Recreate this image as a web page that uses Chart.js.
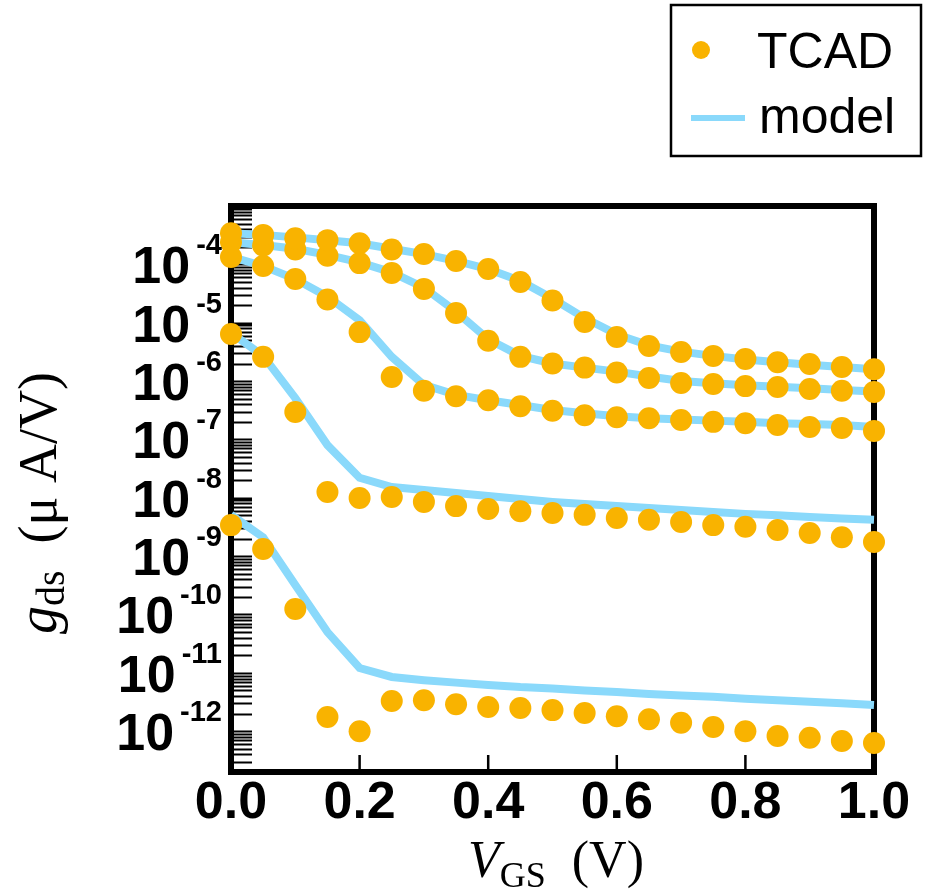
<!DOCTYPE html>
<html>
<head>
<meta charset="utf-8">
<title>gds vs VGS</title>
<script src="https://cdn.jsdelivr.net/npm/chart.js@4.4.0/dist/chart.umd.min.js"></script>
<style>
  html, body { margin: 0; padding: 0; background: #fff; }
  #wrap { position: relative; width: 927px; height: 889px; }
</style>
</head>
<body>
<div id="wrap"><canvas id="chart"></canvas></div>
<script>
'use strict';

// gate voltage sweep (V)
var vgs = [0.00, 0.05, 0.10, 0.15, 0.20, 0.25, 0.30, 0.35, 0.40, 0.45, 0.50,
           0.55, 0.60, 0.65, 0.70, 0.75, 0.80, 0.85, 0.90, 0.95, 1.00];

// TCAD points, gds in uA/V, one array per curve (top to bottom)
var tcad1 = [3.4e-4, 3.2e-4, 2.8e-4, 2.6e-4, 2.3e-4, 1.8e-4, 1.5e-4, 1.14e-4, 8.3e-5, 5.0e-5, 2.4e-5,
             1.03e-5, 5.7e-6, 4.0e-6, 3.15e-6, 2.7e-6, 2.4e-6, 2.1e-6, 1.96e-6, 1.74e-6, 1.6e-6];
var tcad2 = [2.4e-4, 2.1e-4, 1.8e-4, 1.4e-4, 1.05e-4, 7.1e-5, 3.8e-5, 1.47e-5, 4.9e-6, 2.6e-6, 2.0e-6,
             1.7e-6, 1.4e-6, 1.13e-6, 9.3e-7, 8.9e-7, 8.2e-7, 7.9e-7, 7.3e-7, 6.8e-7, 6.5e-7];
var tcad3 = [1.34e-4, 9.4e-5, 5.6e-5, 2.5e-5, 6.9e-6, 1.17e-6, 6.8e-7, 5.5e-7, 4.7e-7, 3.7e-7, 3.1e-7,
             2.6e-7, 2.4e-7, 2.3e-7, 2.15e-7, 2.0e-7, 1.9e-7, 1.77e-7, 1.63e-7, 1.57e-7, 1.4e-7];
var tcad4 = [6.4e-6, 2.6e-6, 2.95e-7, 1.26e-8, 9.9e-9, 1.03e-8, 8.5e-9, 7.2e-9, 6.4e-9, 5.9e-9, 5.5e-9,
             5.1e-9, 4.5e-9, 4.2e-9, 3.85e-9, 3.4e-9, 3.2e-9, 2.8e-9, 2.5e-9, 2.1e-9, 1.75e-9];
var tcad5 = [3.4e-9, 1.33e-9, 1.24e-10, 1.75e-12, 1.0e-12, 3.3e-12, 3.4e-12, 2.9e-12, 2.6e-12, 2.5e-12, 2.3e-12,
             2.05e-12, 1.8e-12, 1.6e-12, 1.4e-12, 1.18e-12, 1.0e-12, 8.3e-13, 7.7e-13, 6.8e-13, 6.3e-13];

// model curves
var model1 = [3.4e-4, 3.2e-4, 2.9e-4, 2.6e-4, 2.3e-4, 1.85e-4, 1.5e-4, 1.15e-4, 8.3e-5, 5.2e-5, 2.6e-5,
              1.2e-5, 6.3e-6, 4.1e-6, 3.2e-6, 2.7e-6, 2.35e-6, 2.1e-6, 1.9e-6, 1.75e-6, 1.6e-6];
var model2 = [2.4e-4, 2.15e-4, 1.85e-4, 1.45e-4, 1.08e-4, 7.3e-5, 4.0e-5, 1.55e-5, 5.2e-6, 2.7e-6, 2.0e-6,
              1.7e-6, 1.45e-6, 1.2e-6, 1.0e-6, 9.2e-7, 8.5e-7, 8.0e-7, 7.5e-7, 7.0e-7, 6.6e-7];
var model3 = [1.34e-4, 9.4e-5, 5.6e-5, 2.8e-5, 1.1e-5, 2.6e-6, 8.6e-7, 5.8e-7, 4.7e-7, 3.9e-7, 3.2e-7,
              2.8e-7, 2.5e-7, 2.3e-7, 2.2e-7, 2.1e-7, 2.0e-7, 1.9e-7, 1.84e-7, 1.77e-7, 1.63e-7];
var model4 = [6.7e-6, 2.7e-6, 5.1e-7, 8.0e-8, 2.2e-8, 1.53e-8, 1.36e-8, 1.21e-8, 1.07e-8, 9.5e-9, 8.5e-9,
              7.8e-9, 7.2e-9, 6.7e-9, 6.2e-9, 5.7e-9, 5.3e-9, 5.0e-9, 4.7e-9, 4.4e-9, 4.2e-9];
var model5 = [5.1e-9, 2.1e-9, 3.2e-10, 5.0e-11, 1.21e-11, 8.5e-12, 7.5e-12, 6.8e-12, 6.2e-12, 5.7e-12, 5.4e-12,
              5.0e-12, 4.7e-12, 4.35e-12, 4.1e-12, 3.9e-12, 3.6e-12, 3.4e-12, 3.2e-12, 3.0e-12, 2.8e-12];

var xTicks = [0.0, 0.2, 0.4, 0.6, 0.8, 1.0];
var yExponents = [-4, -5, -6, -7, -8, -9, -10, -11, -12];
var legendLabels = ['TCAD', 'model'];

var orange = '#f9b300';
var blue = '#8ad9fb';
var sans = "'Liberation Sans', Arial, sans-serif";
var serif = "'Liberation Serif', 'Times New Roman', serif";

function points(vals) {
  var out = [];
  for (var i = 0; i < vals.length; i++) {
    out.push({ x: vgs[i], y: vals[i] });
  }
  return out;
}

var datasets = [];
[tcad1, tcad2, tcad3, tcad4, tcad5].forEach(function (d) {
  datasets.push({
    label: legendLabels[0],
    data: points(d),
    showLine: false,
    pointRadius: 11,
    pointHoverRadius: 11,
    pointBackgroundColor: orange,
    pointBorderWidth: 0,
    clip: false,
    order: 0
  });
});
[model1, model2, model3, model4, model5].forEach(function (d) {
  datasets.push({
    label: legendLabels[1],
    data: points(d),
    showLine: true,
    tension: 0,
    borderColor: blue,
    borderWidth: 8,
    pointRadius: 0,
    clip: false,
    order: 1
  });
});

// draw text pieces one after another (for sub scripts / italics)
function drawPieces(c, pieces, cx, baseY) {
  var total = 0;
  pieces.forEach(function (p) { c.font = p.font; total += c.measureText(p.t).width; });
  var x = cx - total / 2;
  c.textAlign = 'left';
  c.textBaseline = 'alphabetic';
  pieces.forEach(function (p) {
    c.font = p.font;
    c.fillText(p.t, x, baseY + (p.dy || 0));
    x += c.measureText(p.t).width;
  });
}

var decor = {
  id: 'decor',
  beforeDatasetsDraw: function (chart) {
    var c = chart.ctx, a = chart.chartArea;
    var xs = chart.scales.x, ys = chart.scales.y;
    c.save();
    c.strokeStyle = '#000';
    // inner log ticks on the left axis
    c.lineWidth = 1.8;
    c.beginPath();
    for (var e = -13; e <= -3; e++) {
      for (var m = 1; m <= 9; m++) {
        var v = m * Math.pow(10, e);
        if (v < ys.min || v > ys.max) continue;
        var py = Math.round(ys.getPixelForValue(v)) + 0.5;
        c.moveTo(a.left, py);
        c.lineTo(a.left + 21, py);
      }
    }
    c.stroke();
    // inner ticks on the bottom axis
    c.lineWidth = 2.5;
    c.beginPath();
    xTicks.forEach(function (t) {
      var px = xs.getPixelForValue(t);
      c.moveTo(px, a.bottom);
      c.lineTo(px, a.bottom - 17);
    });
    c.stroke();
    // frame
    c.lineWidth = 6;
    c.strokeRect(a.left, a.top, a.right - a.left, a.bottom - a.top);
    c.restore();
  },
  afterDraw: function (chart) {
    var c = chart.ctx, ys = chart.scales.y;
    c.save();
    c.fillStyle = '#000';

    // y tick labels 10^n
    yExponents.forEach(function (p) {
      var py = ys.getPixelForValue(Math.pow(10, p));
      c.textBaseline = 'alphabetic';
      c.textAlign = 'right';
      c.font = 'bold 29px ' + sans;
      var sup = String(p);
      c.fillText(sup, 222, py - 10);
      var sw = c.measureText(sup).width;
      c.font = 'bold 52px ' + sans;
      c.fillText('10', 222 - sw - 6, py + 19);
    });

    // x axis title
    drawPieces(c, [
      { t: 'V', font: 'italic 52px ' + serif },
      { t: 'GS', font: '36px ' + serif, dy: 10 },
      { t: '  (V)', font: '52px ' + serif }
    ], 556, 877);

    // y axis title
    c.save();
    c.translate(56, 503);
    c.rotate(-Math.PI / 2);
    drawPieces(c, [
      { t: 'g', font: 'italic 56px ' + serif },
      { t: 'ds', font: '40px ' + serif, dy: 8 },
      { t: '  (\u03bc A/V)', font: '54px ' + serif }
    ], 0, 0);
    c.restore();

    // legend box
    c.strokeStyle = '#000';
    c.lineWidth = 2.5;
    c.strokeRect(671, 5, 250, 151);
    c.fillStyle = orange;
    c.beginPath();
    c.arc(701, 50, 9, 0, Math.PI * 2);
    c.fill();
    c.strokeStyle = blue;
    c.lineWidth = 6;
    c.beginPath();
    c.moveTo(691, 118);
    c.lineTo(745, 118);
    c.stroke();
    c.fillStyle = '#000';
    c.font = '50px ' + sans;
    c.textAlign = 'left';
    c.textBaseline = 'alphabetic';
    c.fillText(legendLabels[0], 757, 68);
    c.fillText(legendLabels[1], 759, 133);
    c.restore();
  }
};

var ctx = document.getElementById('chart').getContext('2d');

var chart = new Chart(ctx, {
  type: 'scatter',
  data: { datasets: datasets },
  options: {
    responsive: true,
    maintainAspectRatio: false,
    animation: false,
    layout: { padding: { left: 0, right: 53, top: 206, bottom: 0 } },
    plugins: {
      legend: { display: false },
      tooltip: { enabled: false }
    },
    scales: {
      x: {
        type: 'linear',
        min: 0,
        max: 1,
        afterBuildTicks: function (scale) {
          scale.ticks = xTicks.map(function (v) { return { value: v }; });
        },
        afterFit: function (scale) { scale.height = 117; },
        grid: { display: false, drawTicks: false },
        border: { display: false },
        ticks: {
          padding: 0,
          color: '#000',
          maxRotation: 0,
          autoSkip: false,
          font: { family: sans, size: 52, weight: 'bold' },
          callback: function (v) { return Number(v).toFixed(1); }
        }
      },
      y: {
        type: 'logarithmic',
        min: 2e-13,
        max: 1e-3,
        afterFit: function (scale) { scale.width = 231; },
        grid: { display: false, drawTicks: false },
        border: { display: false },
        ticks: { display: false }
      }
    }
  },
  plugins: [decor]
});
</script>
</body>
</html>
